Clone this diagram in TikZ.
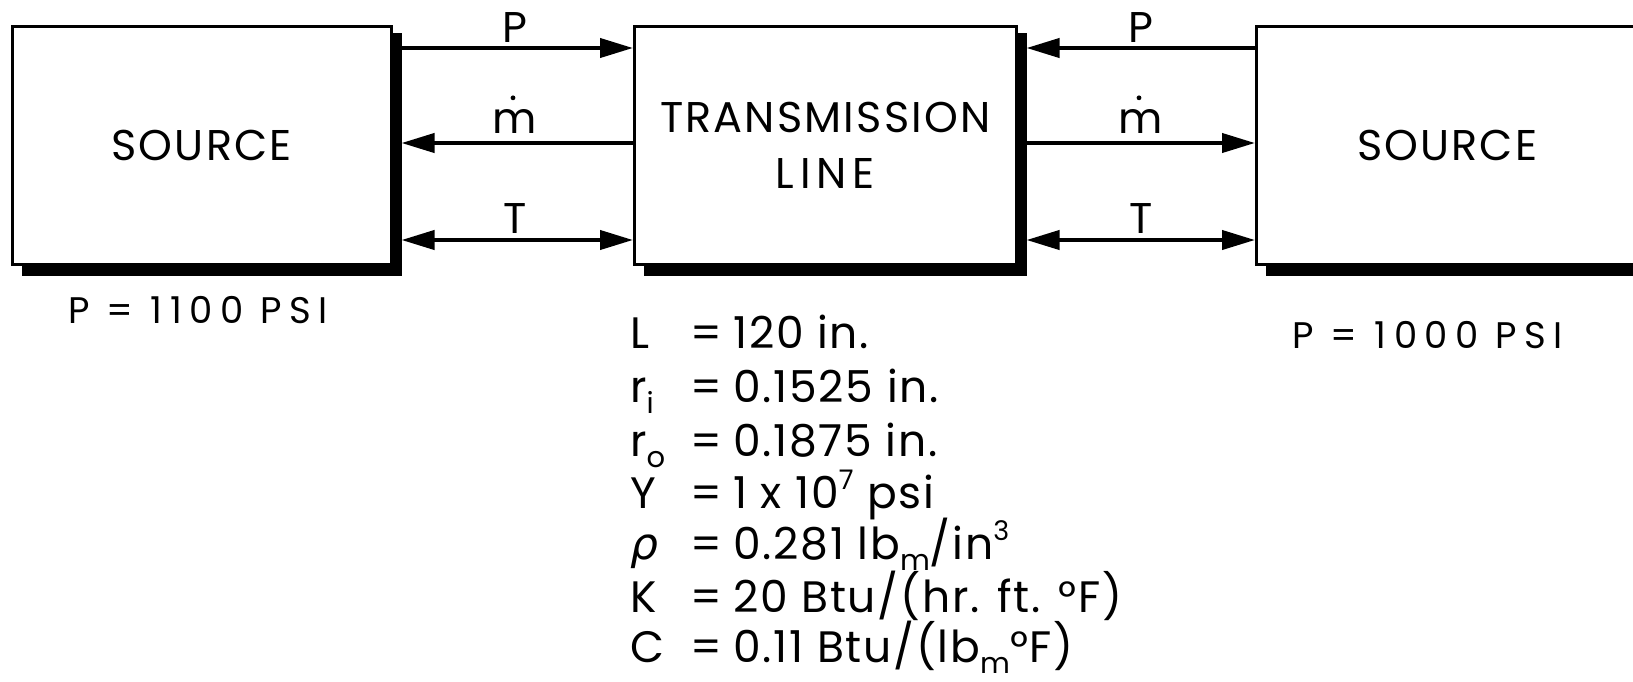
\documentclass[tikz,border=0pt]{standalone}
\usepackage{fontspec}
\setmainfont{Poppins}
\newfontfamily\boxfont[LetterSpace=5]{Poppins}
\newfontfamily\parfont[LetterSpace=4]{Poppins}
\newfontfamily\botfont[LetterSpace=20]{Poppins}
\newfontfamily\grkfont{DejaVu Sans}
\usetikzlibrary{arrows.meta}
\newcommand{\sbx}[1]{\raisebox{-0.26em}{\fontsize{29}{29}\selectfont #1}}
\newcommand{\spx}[1]{\raisebox{0.42em}{\fontsize{27}{27}\selectfont #1}}
\begin{document}
\begin{tikzpicture}[x=1pt,y=-1pt,
  boxst/.style={draw, line width=2.5pt, minimum width=#1, minimum height=238pt,
    inner sep=0pt, anchor=north west, align=center,
    font=\boxfont\fontsize{43}{56}\selectfont},
  shad/.style={fill=black},
  conn/.style={line width=4pt},
  tip/.tip={Triangle[length=33pt,width=19pt]},
  lab/.style={inner sep=0pt, anchor=base, font=\fontsize{43}{43}\selectfont},
  par/.style={inner sep=0pt, anchor=base west, font=\parfont\fontsize{44}{44}\selectfont},
  bot/.style={inner sep=0pt, anchor=base west, font=\botfont\fontsize{37}{37}\selectfont}
]
\useasboundingbox (0,0) rectangle (1633,681);
\clip (0,0) rectangle (1633,681);
\fill[white] (0,0) rectangle (1633,681);

% boxes
\node[boxst=379pt] (src1) at (11,25) {SOURCE};
\node[boxst=382pt] (tl) at (633,25) {TRANSMISSION\\{\addfontfeature{LetterSpace=14}LINE}};
\node[boxst=382pt] (src2) at (1255,25) {SOURCE};

% shadows
\foreach \b in {src1,tl,src2}{
  \fill[shad] ([yshift=-8pt]\b.north east) rectangle ([shift={(9pt,-10pt)}]\b.south east);
  \fill[shad] ([xshift=11pt]\b.south west) rectangle ([shift={(9pt,-10pt)}]\b.south east);
}

\coordinate (s1) at ([xshift=9pt]src1.east);
\coordinate (s2) at ([xshift=9pt]tl.east);
\coordinate (yP) at (0,48);
\coordinate (ym) at (0,143);
\coordinate (yT) at (0,240);

% left connectors
\draw[conn,-tip] (s1 |- yP) -- (tl.west |- yP);
\draw[conn,tip-] (s1 |- ym) -- (tl.west |- ym);
\draw[conn,tip-tip] (s1 |- yT) -- (tl.west |- yT);
% right connectors
\draw[conn,tip-] (s2 |- yP) -- (src2.west |- yP);
\draw[conn,-tip] (s2 |- ym) -- (src2.west |- ym);
\draw[conn,tip-tip] (s2 |- yT) -- (src2.west |- yT);

% connector labels
\node[lab] (lP1) at (515,42) {P};
\node[lab] (lm1) at (515,133) {m};
\node[lab] (lT1) at (515,233) {T};
\node[lab] (lP2) at (1141,42) {P};
\node[lab] (lm2) at (1141,133) {m};
\node[lab] (lT2) at (1141,233) {T};
\fill ([shift={(-2pt,11pt)}]lm1.north) circle (2.4pt);
\fill ([shift={(-2pt,11pt)}]lm2.north) circle (2.4pt);

% source pressures
\node[bot] (pl) at (68,323) {P = 1100 PSI};
\node[bot] (pr) at (1292,348) {P = 1000 PSI};

% parameters
\node[par] (s1L) at (630,348) {L};
\node[par] (e1L) at (690,348) {=};
\node[par] (v1L) at (733,348) {120 in.};

\node[par] (s2L) at (630,402) {r\sbx{i}};
\node[par] (e2L) at (690,402) {=};
\node[par] (v2L) at (733,402) {0.1525 in.};

\node[par] (s3L) at (630,456) {r\sbx{o}};
\node[par] (e3L) at (690,456) {=};
\node[par] (v3L) at (733,456) {0.1875 in.};

\node[par] (s4L) at (630,508) {Y};
\node[par] (e4L) at (690,508) {=};
\node[par] (v4L) at (733,508) {1 x 10\spx{7} psi};

\node[par] (s5L) at (630,559) {\grkfont\itshape ρ};
\node[par] (e5L) at (690,559) {=};
\node[par] (v5L) at (733,559) {0.281 lb\sbx{m}/in\spx{3}};

\node[par] (s6L) at (630,612) {K};
\node[par] (e6L) at (690,612) {=};
\node[par] (v6L) at (733,612) {20 Btu/(hr. ft. °F)};

\node[par] (s7L) at (630,662) {C};
\node[par] (e7L) at (690,662) {=};
\node[par] (v7L) at (733,662) {0.11 Btu/(lb\sbx{m}°F)};
\end{tikzpicture}
\end{document}
